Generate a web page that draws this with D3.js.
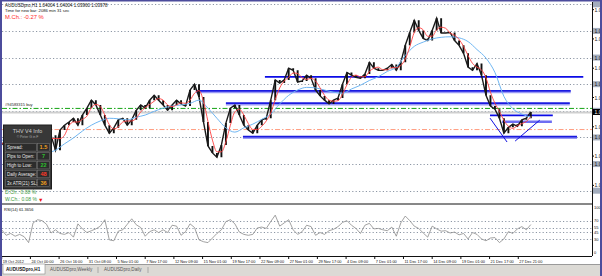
<!DOCTYPE html>
<html><head><meta charset="utf-8">
<script src="https://cdn.jsdelivr.net/npm/d3@7"></script>
<style>
html,body{margin:0;padding:0;background:#fff;overflow:hidden}
svg{display:block;font-family:"Liberation Sans",Arial,sans-serif}
</style></head><body>
<svg id="c" width="602" height="276"></svg>
<script>
// ---------- data ----------
const symbol = "AUDUSDpro,H1";
const quote = ["1.04004", "1.04004", "1.03960", "1.03978"];
const timerText = "Time for new bar: 2086 min 31 sec";
const monthChange = "M.Ch.: -0.27 %";
const dayChange = "D.Ch.: 0.08 %";
const weekChange = "W.Ch.: 0.08 %";
const barStep = 10;      // H1 bars per sample
const closes = [
1.0340,1.0330,1.0345,1.0336,1.0326,1.0298,1.0270,1.0255,1.0280,1.0326,
1.0364,1.0354,1.0326,1.0364,1.0373,1.0379,1.0386,1.0373,1.0392,1.0405,
1.0420,1.0411,1.0392,1.0373,1.0358,1.0368,1.0383,1.0386,1.0373,1.0383,
1.0401,1.0411,1.0405,1.0420,1.0429,1.0420,1.0411,1.0401,1.0411,1.0420,
1.0413,1.0409,1.0439,1.0450,1.0426,1.0379,1.0334,1.0321,1.0313,1.0336,
1.0377,1.0405,1.0411,1.0392,1.0373,1.0364,1.0358,1.0373,1.0383,1.0386,
1.0420,1.0458,1.0452,1.0458,1.0480,1.0476,1.0454,1.0456,1.0467,1.0461,
1.0439,1.0428,1.0420,1.0413,1.0420,1.0424,1.0450,1.0472,1.0467,1.0463,
1.0461,1.0469,1.0491,1.0480,1.0476,1.0476,1.0480,1.0487,1.0476,1.0491,
1.0523,1.0547,1.0570,1.0551,1.0536,1.0532,1.0551,1.0574,1.0546,1.0546,
1.0547,1.0532,1.0523,1.0508,1.0482,1.0476,1.0489,1.0467,1.0429,1.0409,
1.0403,1.0386,1.0358,1.0369,1.0375,1.0371,1.0383,1.0386,1.0398];
const fastMA = [
1.0340,1.0335,1.0338,1.0337,1.0336,1.0320,1.0298,1.0274,1.0268,1.0287,
1.0323,1.0348,1.0348,1.0348,1.0354,1.0372,1.0379,1.0379,1.0384,1.0390,
1.0406,1.0412,1.0408,1.0392,1.0374,1.0366,1.0370,1.0379,1.0381,1.0381,
1.0386,1.0398,1.0406,1.0412,1.0418,1.0423,1.0420,1.0411,1.0408,1.0411,
1.0415,1.0414,1.0420,1.0433,1.0438,1.0418,1.0380,1.0345,1.0323,1.0323,
1.0342,1.0373,1.0398,1.0403,1.0392,1.0376,1.0365,1.0365,1.0371,1.0381,
1.0396,1.0421,1.0443,1.0456,1.0463,1.0471,1.0470,1.0462,1.0459,1.0461,
1.0456,1.0443,1.0429,1.0420,1.0418,1.0419,1.0431,1.0449,1.0463,1.0467,
1.0464,1.0464,1.0474,1.0480,1.0482,1.0477,1.0477,1.0481,1.0481,1.0485,
1.0497,1.0520,1.0547,1.0556,1.0552,1.0540,1.0540,1.0552,1.0557,1.0555,
1.0546,1.0542,1.0534,1.0521,1.0504,1.0489,1.0482,1.0477,1.0462,1.0435,
1.0414,1.0399,1.0382,1.0371,1.0367,1.0372,1.0376,1.0380,1.0389];
const slowStep = 20;     // H1 bars per slow-MA sample
const slowMA = [
1.0345,1.0343,1.0341,1.0330,1.0317,1.0321,1.0326,1.0338,1.0349,1.0362,
1.0373,1.0381,1.0386,1.0385,1.0383,1.0388,1.0392,1.0399,1.0405,1.0409,
1.0411,1.0414,1.0420,1.0405,1.0386,1.0368,1.0360,1.0368,1.0375,1.0384,
1.0394,1.0413,1.0429,1.0439,1.0444,1.0443,1.0439,1.0435,1.0433,1.0441,
1.0448,1.0457,1.0464,1.0474,1.0482,1.0504,1.0521,1.0529,1.0535,1.0538,
1.0539,1.0537,1.0530,1.0515,1.0499,1.0472,1.0427,1.0404,1.0394,1.0388];
const rsi = [
50,38,42,36,40,35,22,65,72,70,62,43,50,42,40,44,34,63,52,44,
48,52,58,72,28,26,47,50,62,74,61,55,36,46,50,44,50,44,60,58,
38,46,63,55,28,24,22,32,42,50,68,72,63,45,40,38,40,54,56,53,
68,82,58,65,72,50,40,46,60,57,38,44,40,48,51,57,66,70,60,53,
42,60,64,52,53,50,48,56,36,65,80,70,58,53,43,34,58,52,47,48,
43,45,39,42,30,44,40,30,26,32,33,22,30,46,42,52,57,50,61.4];
const rsiText = "RSI(14) 61.3656";
const timeLabels = ["19 Oct 2012","24 Oct 00:00","26 Oct 16:00","31 Oct 08:00","5 Nov 01:00",
  "7 Nov 17:00","12 Nov 09:00","15 Nov 01:00","19 Nov 17:00","22 Nov 09:00","27 Nov 01:00",
  "29 Nov 17:00","4 Dec 09:00","7 Dec 01:00","11 Dec 17:00","14 Dec 09:00","19 Dec 01:00",
  "21 Dec 17:00","27 Dec 21:00"];
const labelStep = 64;    // H1 bars between time labels
const dotLevels = [1.0600,1.0550,1.0500,1.0450,1.0400,1.0350,1.0300,1.0250];
const priceTicks = [1.0590,1.0535,1.0480,1.0425,1.0370,1.0315,1.0260];
const rsiLevels = [70,55,45,30];
const rsiTicks = [100,70,55,45,30,0];
const bid = 1.03978;
const buyLevel = 1.04045, buyText = "#94583315 buy";
const tpLevel = 1.03648;
// horizontal line objects: price, from bar, to bar, style
const hLines = [
  {p:1.04637, a:587,  b:1297, s:"thin"},
  {p:1.04369, a:433,  b:1269, s:"thick"},
  {p:1.04139, a:500,  b:1267, s:"thick"},
  {p:1.03509, a:538,  b:1283, s:"thick"},
  {p:1.03914, a:1089, b:1229, s:"thin"},
  {p:1.03794, a:1116, b:1227, s:"light"}];
// trend lines: [bar, price] -> [bar, price]
const tLines = [[1089,1.03863,1127,1.03414],[1145,1.03432,1200,1.03826]];
const infoRows = [["Spread:","1.5","#f0a020"],["Pips to Open:","7","#2fbf2f"],
  ["High to Low:","22","#2fbf2f"],["Daily Average:","48","#ff3a2a"],["3x ATR(21) SL:","36","#f0a020"]];
const tabs = ["AUDUSDpro,H1","AUDUSDpro,Weekly","AUDUSDpro,Daily"];

// ---------- scales ----------
const svg = d3.select("#c");
const x = d3.scaleLinear().domain([0,1320]).range([1.7,593.6]);
const y = d3.scaleLinear().domain([1.0250,1.0600]).range([190.7,4.3]);
const yR = d3.scaleLinear().domain([0,100]).range([252.7,206.9]);
const R = 592, MB = 203.5, RB = 256;

svg.append("rect").attr("width",602).attr("height",276).attr("fill","#fff");
const defs = svg.append("defs");
defs.append("clipPath").attr("id","cm").append("rect").attr("x",2).attr("y",2).attr("width",R-2).attr("height",MB-2);
defs.append("clipPath").attr("id","cr").append("rect").attr("x",2).attr("y",MB+1).attr("width",R-2).attr("height",RB-MB-1);

const main = svg.append("g").attr("clip-path","url(#cm)");
main.selectAll(".lv").data(dotLevels).join("line")
  .attr("x1",2).attr("x2",R).attr("y1",d=>Math.round(y(d))+0.5).attr("y2",d=>Math.round(y(d))+0.5)
  .attr("stroke","#8d97a5").attr("stroke-dasharray","1.2,2.2");
main.append("line").attr("x1",2).attr("x2",R).attr("y1",y(bid)+0.5).attr("y2",y(bid)+0.5)
  .attr("stroke","#cfcfcf").attr("stroke-width",2);
main.append("line").attr("x1",2).attr("x2",R).attr("y1",y(buyLevel)).attr("y2",y(buyLevel))
  .attr("stroke","#13a313").attr("stroke-dasharray","5,2,1.5,2");
main.append("text").attr("x",5).attr("y",y(buyLevel)-2).attr("font-size",4).attr("fill","#222").text(buyText);
main.append("line").attr("x1",2).attr("x2",R).attr("y1",y(tpLevel)).attr("y2",y(tpLevel))
  .attr("stroke","#ff9d80").attr("stroke-dasharray","5,2,1.5,2");
hLines.forEach(h=>{
  const yy = y(h.p);
  if(h.s==="thick"){
    main.append("line").attr("x1",x(h.a)).attr("x2",x(h.b)).attr("y1",yy+1).attr("y2",yy+1).attr("stroke","#9a9af5").attr("stroke-width",2);
    main.append("line").attr("x1",x(h.a)).attr("x2",x(h.b)).attr("y1",yy-0.3).attr("y2",yy-0.3).attr("stroke","#1a1ae0").attr("stroke-width",1.6);
  } else if(h.s==="light"){
    main.append("line").attr("x1",x(h.a)).attr("x2",x(h.b)).attr("y1",yy).attr("y2",yy).attr("stroke","#6e6ef2").attr("stroke-width",2.4);
  } else {
    main.append("line").attr("x1",x(h.a)).attr("x2",x(h.b)).attr("y1",yy).attr("y2",yy).attr("stroke","#0b0be6").attr("stroke-width",1.6);
  }
});
main.selectAll(".tl").data(tLines).join("line")
  .attr("x1",d=>x(d[0])).attr("y1",d=>y(d[1])).attr("x2",d=>x(d[2])).attr("y2",d=>y(d[3]))
  .attr("stroke","#1010e0").attr("stroke-width",1);

// price bars (open = previous close)
main.selectAll(".bar").data(closes.slice(1)).join("line")
  .attr("x1",(d,i)=>x((i+1)*barStep)).attr("x2",(d,i)=>x((i+1)*barStep))
  .attr("y1",(d,i)=>y(closes[i])).attr("y2",d=>y(d))
  .attr("stroke","#111").attr("stroke-width",1.9);
main.append("path").datum(closes)
  .attr("d",d3.line().x((d,i)=>x(i*barStep)).y(d=>y(d)))
  .attr("fill","none").attr("stroke","#1a1a1a").attr("stroke-width",1.4);
main.append("path").datum(slowMA)
  .attr("d",d3.line().curve(d3.curveMonotoneX).x((d,i)=>x(i*slowStep)).y(d=>y(d)))
  .attr("fill","none").attr("stroke","#6fb6f2").attr("stroke-width",1);
main.append("path").datum(fastMA)
  .attr("d",d3.line().curve(d3.curveMonotoneX).x((d,i)=>x(i*barStep)).y(d=>y(d)))
  .attr("fill","none").attr("stroke","#ff4040").attr("stroke-width",0.9);

// header text
const hdr = svg.append("g").attr("fill","#111");
hdr.append("text").attr("x",5).attr("y",7).attr("font-size",4.5).text(symbol+"  "+quote.join(" "));
hdr.append("text").attr("x",5).attr("y",12).attr("font-size",4.2).text(timerText);
svg.append("text").attr("x",5).attr("y",19).attr("font-size",5.8).attr("fill","#ff2a2a").text(monthChange);

// info box
const ib = svg.append("g");
ib.append("rect").attr("x",3.5).attr("y",125).attr("width",48).attr("height",64)
  .attr("fill","#383838").attr("stroke","#1e1e1e");
ib.append("text").attr("x",27.5).attr("y",133).attr("text-anchor","middle").attr("font-size",5.4).attr("fill","#d0d0d0").text("THV  V4  Info");
ib.append("text").attr("x",27.5).attr("y",138).attr("text-anchor","middle").attr("font-size",3.4).attr("fill","#a8a8a8").text("© Peter G in F");
infoRows.forEach((r,j)=>{
  const yy = 144 + j*8.9;
  ib.append("rect").attr("x",5.5).attr("y",yy-0.5).attr("width",31).attr("height",7.6).attr("fill","#2c2c2c").attr("stroke","#7a7a7a").attr("stroke-width",0.5);
  ib.append("rect").attr("x",37.5).attr("y",yy-0.5).attr("width",12).attr("height",7.6).attr("fill","#2c2c2c").attr("stroke","#7a7a7a").attr("stroke-width",0.5);
  ib.append("text").attr("x",7).attr("y",yy+5.2).attr("font-size",4.5).attr("fill","#e6e6e6").text(r[0]);
  ib.append("text").attr("x",43.5).attr("y",yy+5.4).attr("text-anchor","middle").attr("font-size",5.6).attr("font-weight","bold").attr("fill",r[2]).text(r[1]);
});
svg.append("text").attr("x",5).attr("y",194).attr("font-size",5).attr("fill","#3a9a3a").text(dayChange);
svg.append("text").attr("x",5).attr("y",201).attr("font-size",5).attr("fill","#3a9a3a").text(weekChange);
svg.append("text").attr("x",38).attr("y",201.5).attr("font-size",5.5).attr("fill","#ee1111").text("▼");

// RSI panel
const rp = svg.append("g").attr("clip-path","url(#cr)");
rp.selectAll(".rl").data(rsiLevels).join("line")
  .attr("x1",2).attr("x2",R).attr("y1",d=>Math.round(yR(d))+0.5).attr("y2",d=>Math.round(yR(d))+0.5)
  .attr("stroke","#8d97a5").attr("stroke-dasharray","1.2,2.2");
rp.append("path").datum(rsi)
  .attr("d",d3.line().x((d,i)=>x(i*barStep)).y(d=>yR(d)))
  .attr("fill","none").attr("stroke","#8a8a8a").attr("stroke-width",0.8);
svg.append("text").attr("x",4).attr("y",210.5).attr("font-size",4).attr("fill","#111").text(rsiText);

// price axis (the window crops these labels at the right edge)
const ax = svg.append("g").attr("font-size",5).attr("fill","#111");
dotLevels.forEach(p=>{
  ax.append("rect").attr("x",R+1).attr("y",y(p)-3).attr("width",9).attr("height",6).attr("fill","#a3adbd");
});
ax.append("rect").attr("x",R+1).attr("y",y(bid)-3).attr("width",9).attr("height",6).attr("fill","#000");
priceTicks.forEach(p=>{
  ax.append("line").attr("x1",R).attr("x2",R+2).attr("y1",y(p)).attr("y2",y(p)).attr("stroke","#000");
  ax.append("text").attr("x",R+2.5).attr("y",y(p)+2).text(p.toFixed(2));
});
dotLevels.filter(p=>Math.abs(y(p)-y(bid))>6 && priceTicks.every(t=>Math.abs(y(t)-y(p))>6)).forEach(p=>{
  ax.append("text").attr("x",R+2.5).attr("y",y(p)+2).text(p.toFixed(2));
});
ax.append("text").attr("x",R+2.5).attr("y",y(bid)+2).attr("fill","#fff").text(bid.toFixed(2));
rsiTicks.forEach(v=>{
  ax.append("text").attr("x",R+2).attr("y",yR(v)+1.6).attr("font-size",4).text(v);
});

// frame lines
const fr = svg.append("g").attr("stroke","#111").attr("stroke-width",1);
fr.append("line").attr("x1",R+0.5).attr("x2",R+0.5).attr("y1",2).attr("y2",RB);
fr.append("line").attr("x1",2).attr("x2",R).attr("y1",MB+0.5).attr("y2",MB+0.5);
fr.append("line").attr("x1",2).attr("x2",R).attr("y1",RB+0.5).attr("y2",RB+0.5);

// time axis
const ta = svg.append("g");
timeLabels.forEach((t,j)=>{
  const xx = x(j*labelStep);
  ta.append("line").attr("x1",xx).attr("x2",xx).attr("y1",RB).attr("y2",RB+3).attr("stroke","#111");
  ta.append("text").attr("x",xx+1).attr("y",262.5).attr("font-size",3.9).attr("fill","#111").text(t);
});

// tab bar
svg.append("rect").attr("x",0).attr("y",264.5).attr("width",602).attr("height",11.5).attr("fill","#dcdad5");
svg.append("line").attr("x1",0).attr("x2",602).attr("y1",264.5).attr("y2",264.5).attr("stroke","#9a9a9a");
svg.append("rect").attr("x",3).attr("y",264).attr("width",42).attr("height",10).attr("fill","#fff").attr("stroke","#8a8a8a").attr("stroke-width",0.6);
const tabX = [6, 50, 104];
const sepX = [98, 148];
tabs.forEach((t,i)=>{
  svg.append("text").attr("x",tabX[i]).attr("y",271.3).attr("font-size",4.6).attr("font-weight",i===0?"bold":"normal")
    .attr("fill",i===0?"#111":"#555").text(t);
});
sepX.forEach(s=>svg.append("line").attr("x1",s).attr("x2",s).attr("y1",267).attr("y2",273).attr("stroke","#888").attr("stroke-width",0.6));

// outer window frame
const of = svg.append("g").attr("fill","#4c4c9c");
of.append("rect").attr("x",0).attr("y",0).attr("width",602).attr("height",1.5);
of.append("rect").attr("x",0).attr("y",0).attr("width",2).attr("height",276);
of.append("rect").attr("x",600).attr("y",0).attr("width",2).attr("height",276);
</script>
</body></html>
